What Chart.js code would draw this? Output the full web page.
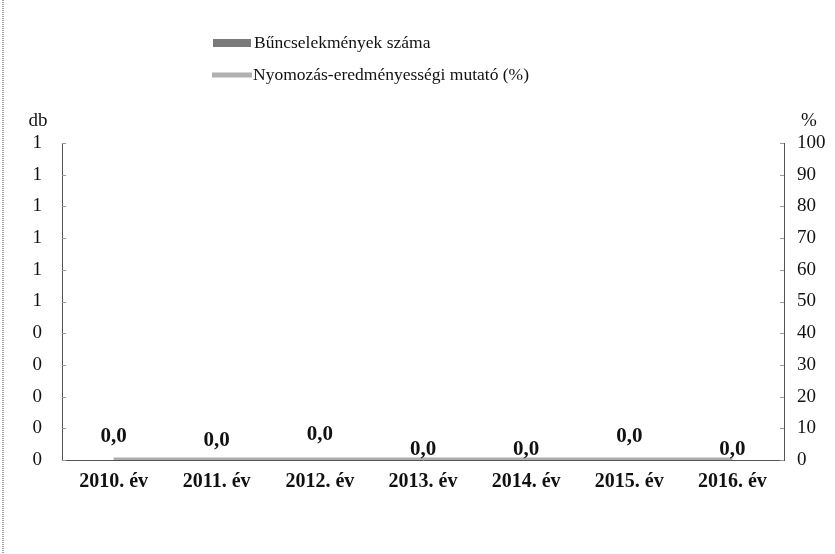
<!DOCTYPE html>
<html>
<head>
<meta charset="utf-8">
<script src="https://cdn.jsdelivr.net/npm/chart.js@4.4.1/dist/chart.umd.min.js"></script>
<style>
html,body{margin:0;padding:0;background:#fff;}
#wrap{width:835px;height:554px;position:relative;}
</style>
</head>
<body>
<div id="wrap"><canvas id="c" width="835" height="554"></canvas></div>
<script>
const categories = ["2010. év","2011. év","2012. év","2013. év","2014. év","2015. év","2016. év"];
const crimeCounts = [0,0,0,0,0,0,0];
const clearanceRate = [0,0,0,0,0,0,0];
const seriesNames = ["Bűncselekmények száma","Nyomozás-eredményességi mutató (%)"];
const leftAxisUnit = "db";
const rightAxisUnit = "%";

const SERIF = "'Liberation Serif','DejaVu Serif',serif";
// vertical offsets of the value labels (pixels above the point)
const labelLift = [23,19,25,10,10,23,10];

const decorPlugin = {
  id:'decor',
  afterDraw(chart){
    const ctx = chart.ctx;
    const ca = chart.chartArea;
    ctx.save();
    // left frame border
    ctx.strokeStyle = '#a0a0a0';
    ctx.lineWidth = 2;
    ctx.setLineDash([1,1]);
    ctx.beginPath(); ctx.moveTo(3,0); ctx.lineTo(3,554); ctx.stroke();
    ctx.setLineDash([]);
    // axis units
    ctx.fillStyle = '#111';
    ctx.font = '19px ' + SERIF;
    ctx.textAlign = 'center'; ctx.textBaseline = 'middle';
    ctx.fillText(leftAxisUnit, 38, 121);
    ctx.fillText(rightAxisUnit, 809, 121);
    // small inward tick marks
    ctx.strokeStyle = '#999'; ctx.lineWidth = 1;
    const yL = chart.scales.y, yR = chart.scales.y2;
    yL.ticks.forEach((t,i)=>{ const py = Math.round(yL.getPixelForTick(i))+0.5; ctx.beginPath(); ctx.moveTo(ca.left,py); ctx.lineTo(ca.left+4,py); ctx.stroke(); });
    yR.ticks.forEach((t,i)=>{ const py = Math.round(yR.getPixelForTick(i))+0.5; ctx.beginPath(); ctx.moveTo(ca.right-4,py); ctx.lineTo(ca.right,py); ctx.stroke(); });
    // legend
    const ds0 = chart.data.datasets[0], ds1 = chart.data.datasets[1];
    ctx.fillStyle = '#7a7a7a';
    ctx.fillRect(213, 39, 38, 8);
    ctx.strokeStyle = '#b0b0b0'; ctx.lineWidth = 5; ctx.lineCap='butt';
    ctx.beginPath(); ctx.moveTo(212, 75); ctx.lineTo(252, 75); ctx.stroke();
    ctx.fillStyle = '#111';
    ctx.font = '17.5px ' + SERIF;
    ctx.textAlign = 'left'; ctx.textBaseline = 'middle';
    ctx.fillText(ds0.label, 254, 43);
    ctx.fillText(ds1.label, 253, 75);
    // value labels
    const meta = chart.getDatasetMeta(1);
    ctx.font = 'bold 21px ' + SERIF;
    ctx.textAlign = 'center';
    meta.data.forEach((pt,i)=>{
      const v = ds1.data[i];
      ctx.fillText(v.toFixed(1).replace('.',','), pt.x, pt.y - labelLift[i]);
    });
    ctx.restore();
  }
};

new Chart(document.getElementById('c'), {
  data:{
    labels: categories,
    datasets:[
      {type:'bar', label: seriesNames[0], data: crimeCounts, backgroundColor:'#7a7a7a', yAxisID:'y', order:2},
      {type:'line', label: seriesNames[1], data: clearanceRate, borderColor:'#adadad', borderWidth:5, pointRadius:0, yAxisID:'y2', order:1, tension:0}
    ]
  },
  options:{
    responsive:false,
    animation:false,
    layout:{padding:{top:143,left:0,right:0,bottom:0}},
    plugins:{legend:{display:false}, tooltip:{enabled:false}},
    scales:{
      x:{
        grid:{display:false, drawTicks:false},
        border:{display:true, color:'#555', dash:[1,1], width:1},
        ticks:{color:'#111', font:{family:SERIF, size:20, weight:'bold'}, padding:10, maxRotation:0},
        afterFit(s){ s.height = 94; }
      },
      y:{
        position:'left', min:0, max:1,
        grid:{display:false, drawTicks:false},
        border:{display:true, color:'#555', dash:[1,1], width:1},
        ticks:{stepSize:0.1, color:'#111', font:{family:SERIF, size:19}, padding:20,
          callback:(v)=>String(Math.round(v))},
        afterFit(s){ s.width = 62; }
      },
      y2:{
        position:'right', min:0, max:100,
        grid:{display:false, drawTicks:false},
        border:{display:true, color:'#555', dash:[1,1], width:1},
        ticks:{stepSize:10, color:'#111', font:{family:SERIF, size:19}, padding:13},
        afterFit(s){ s.width = 51; }
      }
    }
  },
  plugins:[decorPlugin]
});
</script>
</body>
</html>
